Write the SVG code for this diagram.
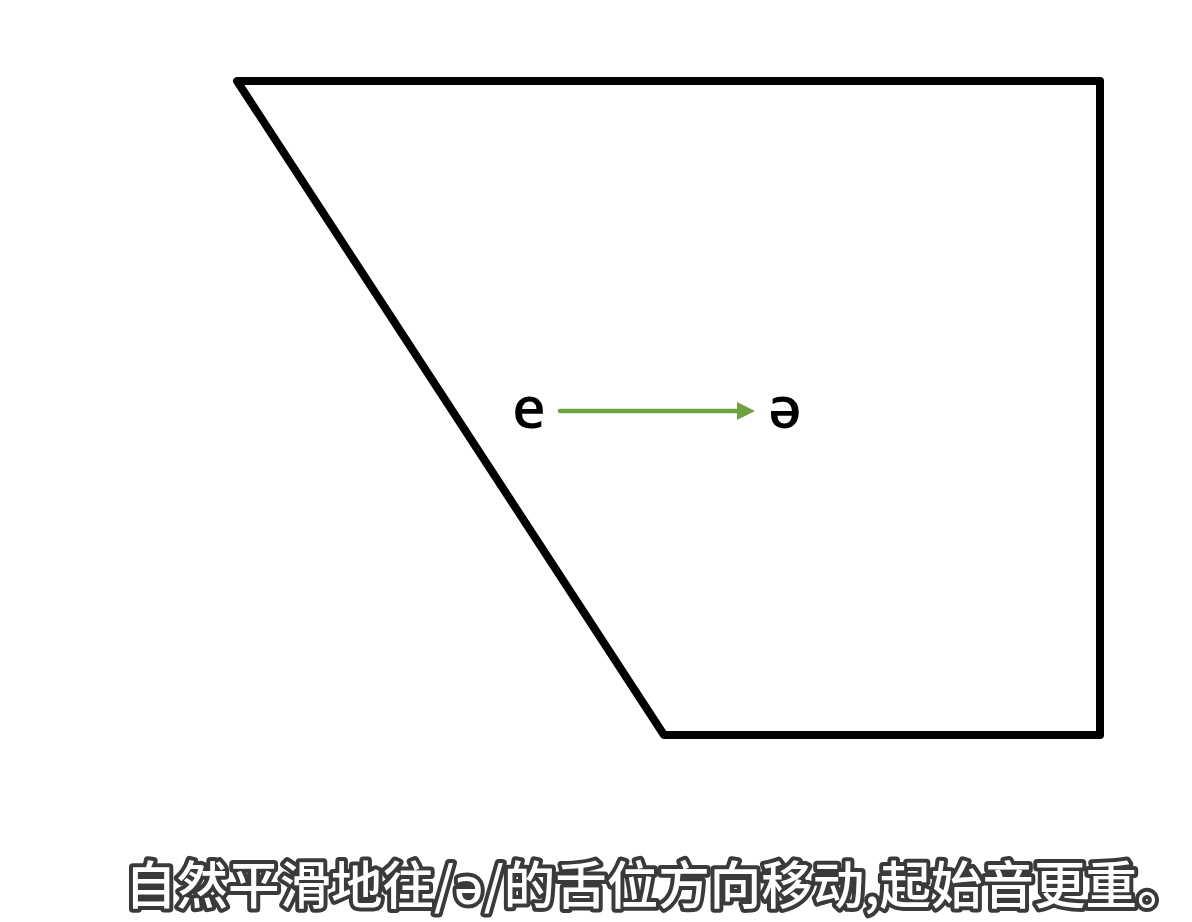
<svg xmlns="http://www.w3.org/2000/svg" width="1192" height="922" viewBox="0 0 1192 922">
<style>
.ipa{font-family:"Open Sans","Noto Sans",sans-serif;font-size:58px;font-weight:600;fill:#000}
.sub{font-family:"Noto Sans CJK SC","Noto Sans",sans-serif;font-size:51.5px;font-weight:500;fill:#fff;stroke:#3a3a3a;stroke-width:8;paint-order:stroke;stroke-linejoin:round}
</style>
<defs>
<marker id="ah" markerWidth="4" markerHeight="4" refX="2" refY="2" orient="auto" markerUnits="strokeWidth">
<path d="M0,0 L4,2 L0,4 Z" fill="#70a243"/>
</marker>
</defs>
<rect width="1192" height="922" fill="#fff"/>
<g id="chart">
<polygon points="237,81 1100,81 1100,735 664,735" fill="none" stroke="#000" stroke-width="8" stroke-linejoin="round"/>
</g>
<g id="node-e"><text class="ipa" x="529" y="428" text-anchor="middle">e</text></g>
<g id="node-schwa"><text class="ipa" x="785" y="428" text-anchor="middle">ə</text></g>
<g id="connectors">
<line x1="560" y1="411" x2="746" y2="411" stroke="#70a243" stroke-width="4.5" stroke-linecap="round" marker-end="url(#ah)"/>
</g>
<g id="subtitle"><text class="sub" x="125" y="904">自然平滑地往/ə/的舌位方向移动,起始音更重。</text></g>
</svg>
